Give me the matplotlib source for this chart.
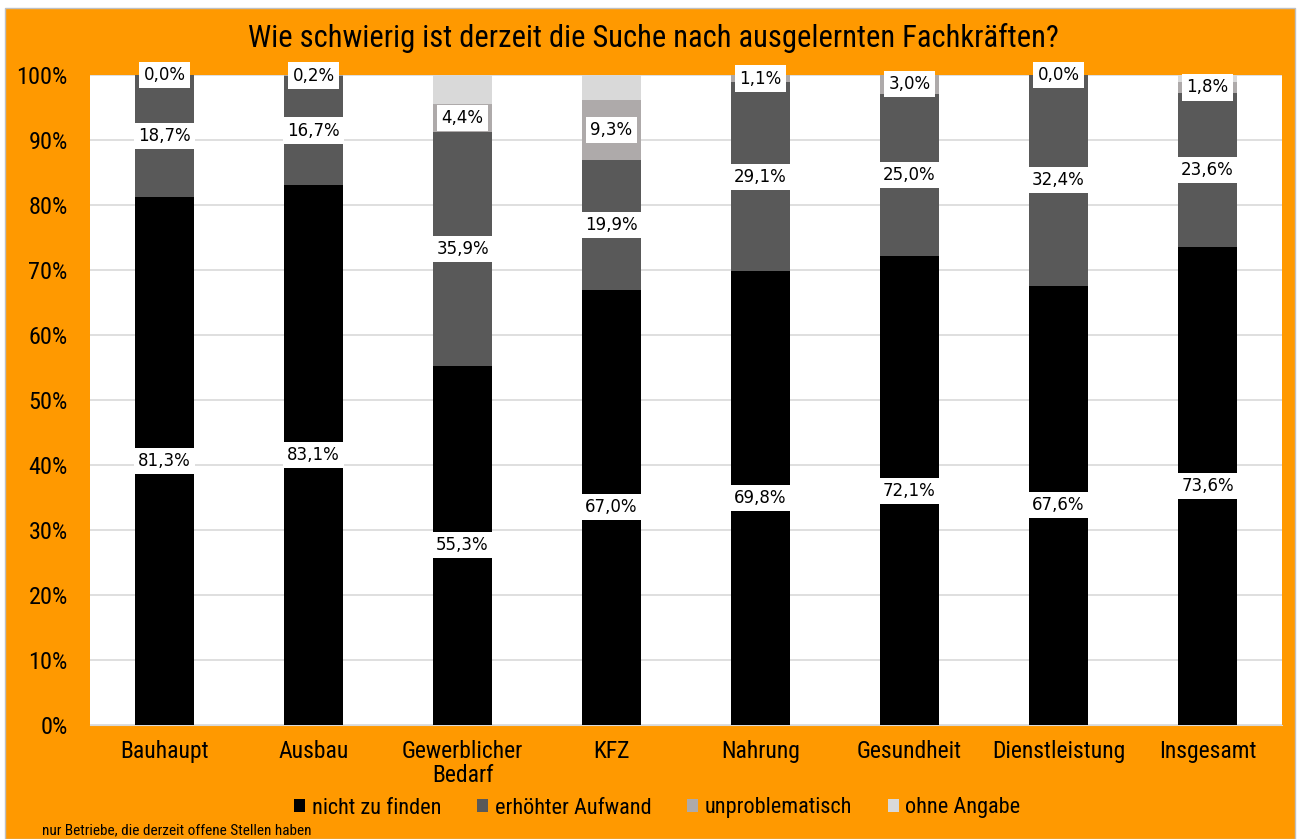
import matplotlib
matplotlib.use("Agg")
import matplotlib.pyplot as plt
import numpy as np
from matplotlib import font_manager
from matplotlib.patches import Rectangle

categories = ["Bauhaupt", "Ausbau", "Gewerblicher\nBedarf", "KFZ", "Nahrung",
              "Gesundheit", "Dienstleistung", "Insgesamt"]
nicht_zu_finden = [81.3, 83.1, 55.3, 67.0, 69.8, 72.1, 67.6, 73.6]
erhoehter_aufwand = [18.7, 16.7, 35.9, 19.9, 29.1, 25.0, 32.4, 23.6]
unproblematisch = [0.0, 0.2, 4.4, 9.3, 1.1, 3.0, 0.0, 1.8]
ohne_angabe = [0.0, 0.0, 4.4, 3.8, 0.0, 0.0, 0.0, 1.0]

series = [
    ("nicht zu finden", nicht_zu_finden, "#000000", True),
    ("erhöhter Aufwand", erhoehter_aufwand, "#595959", True),
    ("unproblematisch", unproblematisch, "#aeaaaa", True),
    ("ohne Angabe", ohne_angabe, "#d9d9d9", False),
]

# the original uses a condensed face; take one if the system has it
installed = {f.name for f in font_manager.fontManager.ttflist}
condensed = [n for n in ("Liberation Sans Narrow", "Roboto Condensed", "Open Sans Condensed",
                         "DejaVu Sans Condensed") if n in installed]
NARROW = condensed[:1] + ["DejaVu Sans"]
SHRINK = 1.0 if condensed else 0.86
ORANGE = "#ff9900"

fig = plt.figure(figsize=(12.99, 8.39), dpi=100, facecolor="white")
fig.patches.append(Rectangle((0.004, 0.0), 0.993, 0.99, transform=fig.transFigure,
                             facecolor=ORANGE, edgecolor="#bfbfbf", linewidth=1, zorder=-1))
ax = fig.add_axes([90 / 1299, 1 - 725 / 839, 1192 / 1299, 650 / 839])
ax.set_facecolor("white")

x = np.arange(len(categories))
bottom = np.zeros(len(categories))
for name, vals, color, labelled in series:
    vals = np.array(vals)
    ax.bar(x, vals, 0.39, bottom=bottom, color=color, label=name, zorder=3)
    if labelled:
        for xi, b, v in zip(x, bottom, vals):
            ax.text(xi, b + v / 2, f"{v:.1f}%".replace(".", ","), ha="center", va="center",
                    fontsize=12, color="black", zorder=5,
                    bbox=dict(boxstyle="square,pad=0.25", facecolor="white", edgecolor="none"))
    bottom += vals

ax.set_xlim(-0.5, len(categories) - 0.5)
ax.set_ylim(0, 100)
ax.set_yticks(np.arange(0, 101, 10))
ax.set_yticklabels([f"{v}%" for v in range(0, 101, 10)], fontsize=17.5 * SHRINK, family=NARROW)
ax.set_xticks(x)
ax.set_xticklabels(categories, fontsize=17 * SHRINK, family=NARROW, linespacing=1.05)
ax.grid(axis="y", color="#d9d9d9", linewidth=1.2, zorder=0)
for s in ["top", "right", "left"]:
    ax.spines[s].set_visible(False)
ax.spines["bottom"].set_color("#d9d9d9")
ax.tick_params(length=0)
ax.tick_params(axis="y", pad=16)
ax.tick_params(axis="x", pad=11)

fig.text(0.503, 1 - 38 / 839, "Wie schwierig ist derzeit die Suche nach ausgelernten Fachkräften?",
         ha="center", va="center", fontsize=22 * SHRINK, family=NARROW)

handles, labels = ax.get_legend_handles_labels()
fig.legend(handles, labels, loc="center", bbox_to_anchor=(0.506, 1 - 808 / 839), ncol=4,
           frameon=False, prop={"family": NARROW, "size": 16 * SHRINK}, handlelength=0.5,
           handleheight=0.5, handletextpad=0.3, columnspacing=1.6)

fig.text(42 / 1299, 1 - 830 / 839, "nur Betriebe, die derzeit offene Stellen haben",
         ha="left", va="center", fontsize=11 * SHRINK, family=NARROW)

fig.savefig("out.png", dpi=100, facecolor="white")
